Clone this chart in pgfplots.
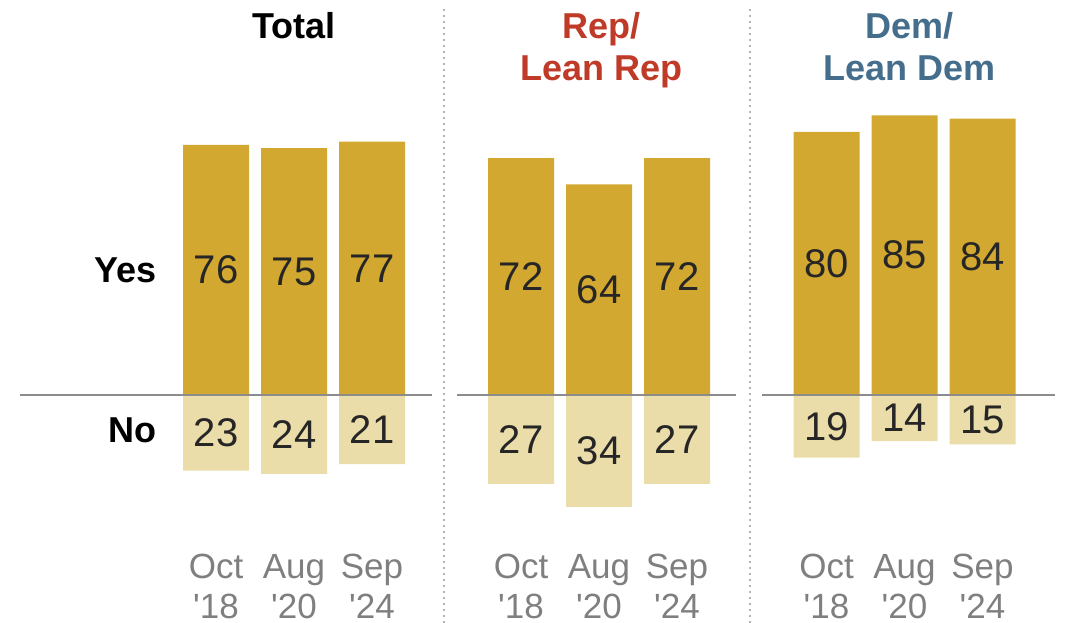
\documentclass[border=0pt]{standalone}
\usepackage{fontspec}
\setmainfont{Liberation Sans}
\usepackage{pgfplots}
\pgfplotsset{compat=1.18}

\definecolor{yesgold}{HTML}{D2A830}
\definecolor{nolight}{HTML}{EBDDAA}
\definecolor{zerogray}{HTML}{8C8C8C}
\definecolor{dategray}{HTML}{7F7F7F}
\definecolor{repred}{HTML}{C03A28}
\definecolor{demblue}{HTML}{446E8C}

\newcommand\numfont{\fontsize{40}{44}\selectfont}
\newcommand\titlefont{\bfseries\fontsize{36}{42}\selectfont}
\newcommand\datefont{\fontsize{35}{40}\selectfont}

\pgfplotsset{
  panel/.style={
    ybar, bar width=66pt, bar shift=0pt,
    scale only axis, height=427.7pt,
    ymin=-40, ymax=90, enlargelimits=false,
    axis line style={draw=none}, tick style={draw=none},
    ytick=\empty, xtick={0,1,2},
    xticklabels={{Oct\\\textquotesingle18},{Aug\\\textquotesingle20},{Sep\\\textquotesingle24}},
    xticklabel style={font=\datefont, text=dategray, align=center,
      anchor=north, inner sep=0pt, yshift=-23pt},
    clip=false,
    nodes near coords={\pgfmathparse{abs(\rawy)}\pgfmathprintnumber[assume math mode=true]{\pgfmathresult}},
    nodes near coords align={center},
    visualization depends on={y \as \rawy},
    every node near coord/.style={anchor=center,
      shift={(axis direction cs:0,-\rawy/2)}, font=\numfont, text=black!85},
  },
  yes/.style={fill=yesgold, draw=none},
  no/.style={fill=nolight, draw=none},
}

\begin{document}
\begin{tikzpicture}[x=1pt,y=1pt]
\path[use as bounding box] (0pt,0pt) rectangle (1065pt,623pt);

% Total
\begin{axis}[panel, at={(20pt,96.4pt)}, anchor=south west, width=412pt,
  xmin=-2.5128, xmax=2.769]
\addplot[yes] coordinates {(0,76) (1,75) (2,77)};
\addplot[no] coordinates {(0,-23) (1,-24) (2,-21)};
\draw[zerogray, line width=2.5pt] (axis cs:-2.5128,0) -- (axis cs:2.769,0);
\node[anchor=north, font=\titlefont, align=center, inner sep=0pt] at (axis cs:1,116.4) {Total};
\node[anchor=east, font=\titlefont, inner sep=0pt] at (axis cs:-0.756,38) {Yes};
\node[anchor=east, font=\titlefont, inner sep=0pt] at (axis cs:-0.756,-10.8) {No};
\end{axis}

% Rep/Lean Rep
\begin{axis}[panel, at={(457pt,96.4pt)}, anchor=south west, width=279pt,
  xmin=-0.8205, xmax=2.756]
\addplot[yes] coordinates {(0,72) (1,64) (2,72)};
\addplot[no] coordinates {(0,-27) (1,-34) (2,-27)};
\draw[zerogray, line width=2.5pt] (axis cs:-0.8205,0) -- (axis cs:2.756,0);
\node[anchor=north, font=\titlefont, text=repred, align=center, inner sep=0pt] at (axis cs:1.03,116.4) {Rep/\\Lean Rep};
\end{axis}

% Dem/Lean Dem
\begin{axis}[panel, at={(762pt,96.4pt)}, anchor=south west, width=293pt,
  xmin=-0.8269, xmax=2.929]
\addplot[yes] coordinates {(0,80) (1,85) (2,84)};
\addplot[no] coordinates {(0,-19) (1,-14) (2,-15)};
\draw[zerogray, line width=2.5pt] (axis cs:-0.8269,0) -- (axis cs:2.929,0);
\node[anchor=north, font=\titlefont, text=demblue, align=center, inner sep=0pt] at (axis cs:1.07,116.4) {Dem/\\Lean Dem};
\end{axis}

% panel separators
\draw[gray!60, line width=2pt, dash pattern=on 2pt off 4pt] (444pt,0pt) -- (444pt,614pt);
\draw[gray!60, line width=2pt, dash pattern=on 2pt off 4pt] (750pt,0pt) -- (750pt,614pt);
\end{tikzpicture}
\end{document}
